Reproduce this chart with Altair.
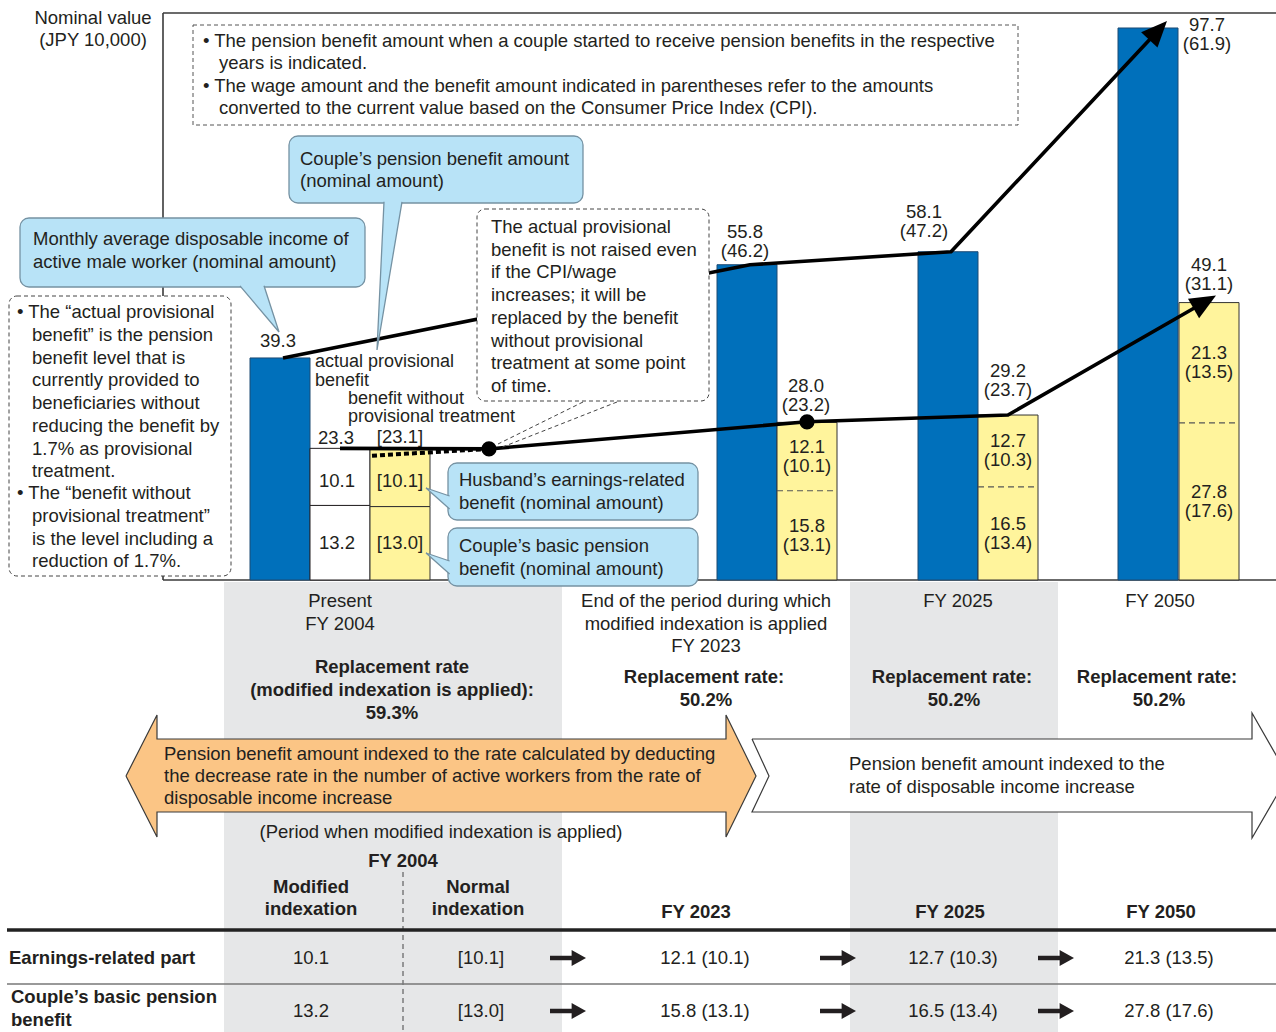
import math
import altair as alt
import pandas as pd

# ------------------------------------------------------------------ data
periods = ["FY 2004", "FY 2023", "FY 2025", "FY 2050"]
income_nominal = [39.3, 55.8, 58.1, 97.7]
income_real = [None, 46.2, 47.2, 61.9]
earnings_nominal = [10.1, 12.1, 12.7, 21.3]
earnings_real = [None, 10.1, 10.3, 13.5]
basic_nominal = [13.2, 15.8, 16.5, 27.8]
basic_real = [None, 13.1, 13.4, 17.6]
benefit_nominal = [23.3, 28.0, 29.2, 49.1]
benefit_real = [None, 23.2, 23.7, 31.1]
normal_earnings_2004 = 10.1
normal_basic_2004 = 13.0
normal_total_2004 = 23.1
replacement_rate = ["59.3%", "50.2%", "50.2%", "50.2%"]

# ------------------------------------------------------------------ layout
W, H = 1276, 1032
BASE = 580          # pixel row of the value 0
K = 5.65            # pixels per JPY 10,000


def Y(py):
    return (BASE - py) / K


def P(v):
    return BASE - v * K


FONT = "Liberation Sans"
FS = 18.5
TXT = "#231f20"
BLUE = "#0070bb"
YEL = "#fff49c"
CALL = "#b8e3f7"
CALL_STROKE = "#7592a3"
ORANGE = "#fbc585"
GRAY = "#e6e7e8"

blue_cx = [280, 747, 948, 1148]
yel_cx = [400, 807, 1008, 1209]
white_cx = 340
HALF = 30

XS = alt.Scale(domain=[0, W], range=[0, W], nice=False, zero=False)
YS = alt.Scale(domain=[Y(H), Y(0)], nice=False, zero=False)


def enc_xy():
    return dict(x=alt.X("x:Q", scale=XS, axis=None),
                y=alt.Y("y:Q", scale=YS, axis=None))


def text_layer(rows, size=FS, weight="normal", align="center", color=TXT, px=True):
    df = pd.DataFrame(rows, columns=["x", "y", "t"])
    if px:
        df["y"] = df["y"].map(Y)
    return alt.Chart(df).mark_text(font=FONT, fontSize=size, fontWeight=weight, align=align,
                                   baseline="middle", color=color).encode(**enc_xy(), text="t:N")


def rect_layer(rows, px=True, **mark):
    df = pd.DataFrame(rows, columns=["x", "x2", "y", "y2"])
    if px:
        df["y"] = df["y"].map(Y)
        df["y2"] = df["y2"].map(Y)
    return alt.Chart(df).mark_rect(**mark).encode(**enc_xy(), x2="x2:Q", y2="y2:Q")


def seg_layer(rows, px=True, **mark):
    df = pd.DataFrame(rows, columns=["x", "y", "x2", "y2"])
    if px:
        df["y"] = df["y"].map(Y)
        df["y2"] = df["y2"].map(Y)
    return alt.Chart(df).mark_rule(**mark).encode(**enc_xy(), x2="x2:Q", y2="y2:Q")


def poly_layer(polys, px=True, **mark):
    rows = []
    for g, pts in enumerate(polys):
        for i, (x, y) in enumerate(pts):
            rows.append({"g": g, "i": i, "x": x, "y": Y(y) if px else y})
    return alt.Chart(pd.DataFrame(rows)).mark_line(**mark).encode(
        **enc_xy(), order="i:Q", detail="g:N")


def sym_layer(rows, shape, size, color):
    df = pd.DataFrame(rows, columns=["x", "y", "a"])
    return alt.Chart(df).mark_point(shape=shape, size=size, filled=True, color=color,
                                    opacity=1, strokeWidth=0).encode(
        **enc_xy(), angle=alt.Angle("a:Q", scale=None))


ARROW_PATH = "M0,-1L-0.8,0.85L0.8,0.85Z"
ARROW_R = 14


def arrow_head(prev_px, tip_px):
    dx, dy = tip_px[0] - prev_px[0], tip_px[1] - prev_px[1]
    d = math.hypot(dx, dy)
    ux, uy = dx / d, dy / d
    cx, cy = tip_px[0] - ARROW_R * ux, tip_px[1] - ARROW_R * uy
    ang = math.degrees(math.atan2(dx, -dy))
    return (cx, Y(cy), ang)


layers = []

# gray column backgrounds
layers.append(rect_layer([(224, 562, 582, H), (850, 1058, 582, H)], fill=GRAY))

# frame
layers.append(seg_layer([(163, 13, W, 13), (163, 13, 163, BASE), (163, BASE, W, BASE)],
                        color="#3a3a3a", strokeWidth=1.6))

# axis unit label
layers.append(text_layer([(93, 18, "Nominal value"), (93, 40, "(JPY 10,000)")]))

# note box
layers.append(rect_layer([(193, 1018, 25, 125)], fill="white", stroke="#555",
                         strokeWidth=1, strokeDash=[4, 3]))
layers.append(text_layer([
    (203, 41, "• The pension benefit amount when a couple started to receive pension benefits in the respective"),
    (219, 63, "years is indicated."),
    (203, 86, "• The wage amount and the benefit amount indicated in parentheses refer to the amounts"),
    (219, 108, "converted to the current value based on the Consumer Price Index (CPI)."),
], align="left"))

# ------------------------------------------------------------------ bars
blue_df = pd.DataFrame({
    "x": [c - HALF for c in blue_cx], "x2": [c + HALF for c in blue_cx],
    "y": income_nominal, "y2": [0.0] * 4})
layers.append(alt.Chart(blue_df).mark_rect(fill=BLUE, stroke="#1d4a73", strokeWidth=1).encode(
    **enc_xy(), x2="x2:Q", y2="y2:Q"))

white_rows = [(white_cx - HALF, white_cx + HALF, 0.0, basic_nominal[0]),
              (white_cx - HALF, white_cx + HALF, basic_nominal[0], basic_nominal[0] + earnings_nominal[0])]
layers.append(rect_layer(white_rows, px=False, fill="white", stroke=TXT, strokeWidth=1))

yel_rows = [(yel_cx[0] - HALF, yel_cx[0] + HALF, 0.0, normal_basic_2004),
            (yel_cx[0] - HALF, yel_cx[0] + HALF, normal_basic_2004, normal_basic_2004 + normal_earnings_2004)]
for i in range(1, 4):
    yel_rows.append((yel_cx[i] - HALF, yel_cx[i] + HALF, 0.0, basic_nominal[i] + earnings_nominal[i]))
layers.append(rect_layer(yel_rows, px=False, fill=YEL, stroke="#333", strokeWidth=1))

div_rows = [(yel_cx[i] - HALF, basic_nominal[i], yel_cx[i] + HALF, basic_nominal[i]) for i in range(1, 4)]
layers.append(seg_layer(div_rows, px=False, color="#555", strokeWidth=1.2, strokeDash=[6, 4]))

# ------------------------------------------------------------------ lines
# upper line: disposable income
up_tip_px = (blue_cx[3] + 19, P(income_nominal[3]) - 7)
up_prev_px = (blue_cx[2] + 3, P(income_nominal[2]))
up_head = arrow_head(up_prev_px, up_tip_px)
upper_pts = [(blue_cx[i] + 3, income_nominal[i]) for i in range(3)] + [(up_head[0], up_head[1])]
layers.append(poly_layer([upper_pts], px=False, stroke="black", strokeWidth=3.6, strokeJoin="round"))

# lower line: couple's pension benefit
junction = (489, (benefit_nominal[0] + normal_total_2004) / 2)
lo_tip_px = (yel_cx[3] + 7, P(benefit_nominal[3]) - 7)
lo_prev_px = (yel_cx[2], P(benefit_nominal[2]))
lo_head = arrow_head(lo_prev_px, lo_tip_px)
lower_pts = [(white_cx, benefit_nominal[0]), junction] + \
            [(yel_cx[i], benefit_nominal[i]) for i in (1, 2)] + [(lo_head[0], lo_head[1])]
layers.append(poly_layer([lower_pts], px=False, stroke="black", strokeWidth=3.6, strokeJoin="round"))

# dashed line: benefit without provisional treatment
layers.append(poly_layer([[(372, normal_total_2004 - 1.1), junction]], px=False,
                         stroke="black", strokeWidth=4, strokeDash=[5, 3]))

# dots
dot_df = pd.DataFrame([{"x": junction[0], "y": junction[1]},
                       {"x": yel_cx[1], "y": benefit_nominal[1]}])
layers.append(alt.Chart(dot_df).mark_point(shape="circle", size=230, filled=True,
                                           color="black", opacity=1).encode(**enc_xy()))

# arrow heads
layers.append(sym_layer([up_head, lo_head], ARROW_PATH, (2 * ARROW_R) ** 2, "black"))

# ------------------------------------------------------------------ callouts
callout_boxes = [(289, 583, 136, 203), (20, 365, 218, 287), (448, 698, 463, 520), (448, 698, 528, 586)]
layers.append(rect_layer(callout_boxes, fill=CALL, stroke=CALL_STROKE, strokeWidth=1.3, cornerRadius=9))
pointers = [
    [(384, 201.8), (377, 350), (402, 201.8)],
    [(240, 285.8), (279, 332), (264, 285.8)],
    [(449.6, 496), (426, 488), (449.6, 509)],
    [(449.6, 561), (426, 553), (449.6, 574)],
]
layers.append(poly_layer(pointers, fill=CALL, stroke=CALL_STROKE, strokeWidth=1.3, strokeJoin="miter"))
layers.append(text_layer([
    (300, 159, "Couple’s pension benefit amount"), (300, 181, "(nominal amount)"),
    (33, 239, "Monthly average disposable income of"), (33, 262, "active male worker (nominal amount)"),
    (459, 480, "Husband’s earnings-related"), (459, 503, "benefit (nominal amount)"),
    (459, 546, "Couple’s basic pension"), (459, 569, "benefit (nominal amount)"),
], align="left"))

# dashed explanatory boxes
layers.append(rect_layer([(9, 231, 296, 576), (477, 709, 209, 401)], fill="white", stroke="#444",
                         strokeWidth=1, strokeDash=[4, 3], cornerRadius=8))
layers.append(seg_layer([(583, 402, 498, 444), (617, 402, 500, 448)], color="#444",
                        strokeWidth=1, strokeDash=[4, 3]))
left_lines = ["benefit” is the pension", "benefit level that is", "currently provided to",
              "beneficiaries without", "reducing the benefit by", "1.7% as provisional", "treatment."]
left_rows = [(17, 312, "• The “actual provisional")]
left_rows += [(32, 335 + 22.7 * k, s) for k, s in enumerate(left_lines)]
left_rows += [(17, 493, "• The “benefit without"), (32, 516, "provisional treatment”"),
              (32, 538.5, "is the level including a"), (32, 561, "reduction of 1.7%.")]
layers.append(text_layer(left_rows, align="left"))
mid_lines = ["The actual provisional", "benefit is not raised even", "if the CPI/wage",
             "increases; it will be", "replaced by the benefit", "without provisional",
             "treatment at some point", "of time."]
layers.append(text_layer([(491, 227 + 22.7 * k, s) for k, s in enumerate(mid_lines)], align="left"))

# small labels near 2004 bars
layers.append(text_layer([
    (315, 362, "actual provisional"), (315, 381, "benefit"),
    (348, 399, "benefit without"), (348, 417, "provisional treatment"),
], align="left", size=18))

# ------------------------------------------------------------------ bar value labels
LH = 19
inc_lab_x = [278, 745, 924, 1207]
inc_lab_dy = [-17, -33, -40, -3]
lab_rows = []
for i in range(4):
    top = P(income_nominal[i]) + inc_lab_dy[i]
    lab_rows.append((inc_lab_x[i], Y(top), f"{income_nominal[i]:.1f}"))
    if income_real[i] is not None:
        lab_rows.append((inc_lab_x[i], Y(top + LH), f"({income_real[i]:.1f})"))
tot_lab_x = [336, 806, 1008, 1209]
tot_lab_dy = [-10, -36, -44, -38]
for i in range(4):
    top = P(benefit_nominal[i]) + tot_lab_dy[i]
    lab_rows.append((tot_lab_x[i], Y(top), f"{benefit_nominal[i]:.1f}"))
    if benefit_real[i] is not None:
        lab_rows.append((tot_lab_x[i], Y(top + LH), f"({benefit_real[i]:.1f})"))
lab_rows.append((400, Y(P(normal_total_2004) - 12), f"[{normal_total_2004:.1f}]"))
for i in range(1, 4):
    ce = P(basic_nominal[i] + earnings_nominal[i] / 2)
    cb = P(basic_nominal[i] / 2)
    lab_rows += [(yel_cx[i], Y(ce - LH / 2), f"{earnings_nominal[i]:.1f}"),
                 (yel_cx[i], Y(ce + LH / 2), f"({earnings_real[i]:.1f})"),
                 (yel_cx[i], Y(cb - LH / 2), f"{basic_nominal[i]:.1f}"),
                 (yel_cx[i], Y(cb + LH / 2), f"({basic_real[i]:.1f})")]
lab_rows += [
    (white_cx - 3, Y(P(basic_nominal[0] + earnings_nominal[0] / 2) + 4), f"{earnings_nominal[0]:.1f}"),
    (white_cx - 3, Y(P(basic_nominal[0] / 2)), f"{basic_nominal[0]:.1f}"),
    (yel_cx[0], Y(P(normal_basic_2004 + normal_earnings_2004 / 2) + 3), f"[{normal_earnings_2004:.1f}]"),
    (yel_cx[0], Y(P(normal_basic_2004 / 2)), f"[{normal_basic_2004:.1f}]"),
]
layers.append(text_layer(lab_rows, px=False))

# ------------------------------------------------------------------ lower section
layers.append(text_layer([
    (340, 601, "Present"), (340, 624, periods[0]),
    (706, 601, "End of the period during which"), (706, 624, "modified indexation is applied"),
    (706, 646, periods[1]),
    (958, 601, periods[2]), (1160, 601, periods[3]),
]))
layers.append(text_layer([
    (392, 667, "Replacement rate"), (392, 690, "(modified indexation is applied):"),
    (392, 713, replacement_rate[0]),
    (704, 677, "Replacement rate:"), (706, 700, replacement_rate[1]),
    (952, 677, "Replacement rate:"), (954, 700, replacement_rate[2]),
    (1157, 677, "Replacement rate:"), (1159, 700, replacement_rate[3]),
], weight="bold"))

orange_poly = [(126, 776), (157, 715), (157, 739), (726, 739), (726, 715), (756, 776),
               (726, 837), (726, 812), (157, 812), (157, 837), (126, 776)]
white_poly = [(752, 739), (1252, 739), (1252, 713), (1288, 776), (1252, 838), (1252, 812),
              (752, 812), (769, 776), (752, 739)]
layers.append(poly_layer([orange_poly], fill=ORANGE, stroke="#3a3a3a", strokeWidth=1.2, strokeJoin="miter"))
layers.append(poly_layer([white_poly], fill="white", stroke="#3a3a3a", strokeWidth=1.2, strokeJoin="miter"))
layers.append(text_layer([
    (164, 754, "Pension benefit amount indexed to the rate calculated by deducting"),
    (164, 776, "the decrease rate in the number of active workers from the rate of"),
    (164, 798, "disposable income increase"),
    (849, 764, "Pension benefit amount indexed to the"),
    (849, 787, "rate of disposable income increase"),
], align="left"))
layers.append(text_layer([(441, 832, "(Period when modified indexation is applied)")]))

# table
layers.append(seg_layer([(403, 872, 403, H)], color="#444", strokeWidth=1, strokeDash=[5, 4]))
layers.append(seg_layer([(7, 930, W, 930)], color="#222", strokeWidth=3.5))
layers.append(seg_layer([(7, 984, W, 984)], color="#777", strokeWidth=1.5))
layers.append(text_layer([
    (403, 861, periods[0]),
    (311, 887, "Modified"), (311, 909, "indexation"),
    (478, 887, "Normal"), (478, 909, "indexation"),
    (696, 912, periods[1]), (950, 912, periods[2]), (1161, 912, periods[3]),
], weight="bold"))
layers.append(text_layer([
    (9, 958, "Earnings-related part"),
    (11, 997, "Couple’s basic pension"), (11, 1020, "benefit"),
], weight="bold", align="left"))

col_x = [311, 481, 705, 953, 1169]
row_y = [958, 1011]
row1 = [f"{earnings_nominal[0]:.1f}", f"[{normal_earnings_2004:.1f}]"] + \
       [f"{earnings_nominal[i]:.1f} ({earnings_real[i]:.1f})" for i in range(1, 4)]
row2 = [f"{basic_nominal[0]:.1f}", f"[{normal_basic_2004:.1f}]"] + \
       [f"{basic_nominal[i]:.1f} ({basic_real[i]:.1f})" for i in range(1, 4)]
tab_rows = [(col_x[k], row_y[0], s) for k, s in enumerate(row1)] + \
           [(col_x[k], row_y[1], s) for k, s in enumerate(row2)]
layers.append(text_layer(tab_rows))

arrow_x = [550, 820, 1038]
shafts = [(ax, ry, ax + 24, ry) for ax in arrow_x for ry in row_y]
layers.append(seg_layer(shafts, color="#231f20", strokeWidth=4.5))
heads = [(ax + 28, Y(ry), 90.0) for ax in arrow_x for ry in row_y]
layers.append(sym_layer(heads, "M0,-1L-1,0.8L1,0.8Z", 256, "#231f20"))

chart = alt.layer(*layers).properties(
    width=W, height=H, padding=0,
    autosize=alt.AutoSizeParams(type="none"), background="white",
).configure_view(stroke=None)

chart.save("out.html", embed_options={"renderer": "svg", "actions": False})
